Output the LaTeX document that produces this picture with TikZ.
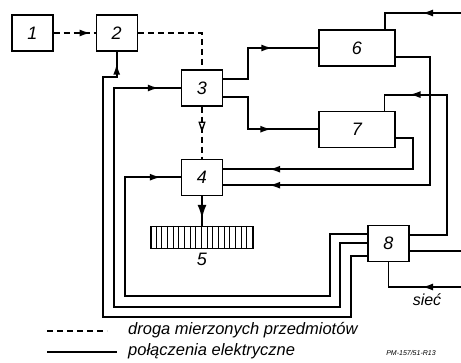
\documentclass[tikz,border=0pt]{standalone}
\usepackage{fontspec}
\setmainfont{Liberation Sans}
\usetikzlibrary{arrows.meta,positioning,decorations.markings}
\tikzstyle{blok}=[rectangle,draw,line width=1.2pt,minimum width=41pt,minimum height=36pt,
                  inner sep=0pt,font=\itshape\fontsize{18}{18}\selectfont]
\tikzstyle{wire}=[line width=1.8pt]
\tikzstyle{droga}=[line width=1.8pt,dash pattern=on 6pt off 4pt]
\tikzstyle{legtxt}=[anchor=west,inner sep=0pt,font=\itshape\fontsize{16.5}{16.5}\selectfont]
\tikzset{midarr/.style={postaction={decorate},decoration={markings,
           mark=at position #1 with {\arrow{Latex[length=11pt,width=7pt]}}}},
         bigarr/.style={postaction={decorate},decoration={markings,
           mark=at position #1 with {\arrow{Latex[length=14pt,width=9pt]}}}},
         openarr/.style={postaction={decorate},decoration={markings,
           mark=at position #1 with {\arrow{Triangle[open,length=11pt,width=7pt,line width=1.3pt]}}}}}

\begin{document}
\begin{tikzpicture}[x=1pt,y=-1pt,node distance=42pt]
  \useasboundingbox (0,0) rectangle (461,362);
  \node[blok] (n1) at (32.5,33) {1};
  \node[blok,right=of n1] (n2) {2};
  \node[blok] (n3) at (202,88) {3};
  \node[blok,below=52pt of n3] (n4) {4};
  \node[blok,below=30pt of n4,minimum width=102pt,minimum height=22pt] (n5) {};
  \foreach \k in {1,...,17}
    \draw[line width=0.7pt] ([xshift=\k*5.67pt]n5.north west) -- ([xshift=\k*5.67pt]n5.south west);
  \node[below=4pt of n5,font=\itshape\fontsize{18}{18}\selectfont,inner sep=0pt] (l5) {5};
  \node[blok,minimum width=76pt] (n6) at (357,48) {6};
  \node[blok,minimum width=76pt,below=44pt of n6] (n7) {7};
  \node[blok] (n8) at (388.5,243.5) {8};
  \coordinate (we6) at (461,13);
  \coordinate (we8) at (461,251);
  \coordinate (wes) at (461,287);
  \node[font=\itshape\fontsize{16}{16}\selectfont,inner sep=0pt] (siec) at (427,300) {sieć};

  % droga mierzonych przedmiotow
  \draw[droga,midarr=-5pt] (n1) -- (n2);
  \draw[droga] (n2) -| (n3);
  \draw[droga,openarr=26pt] (n3) -- (n4);
  \draw[wire,bigarr=-7pt] (n4) -- (n5);

  % polaczenia elektryczne
  \draw[wire,midarr=-46pt] ([yshift=9pt]n3.east) -- ++(25,0) |- (n6.west);
  \draw[wire,midarr=-47pt] ([yshift=-9pt]n3.east) -- ++(25,0) |- (n7.west);
  \draw[wire,midarr=39pt] (we6) -| ([xshift=28pt]n6.north);
  \draw[wire,midarr=-46pt] ([yshift=-9pt]n6.east) -- ++(34,0) |- ([yshift=-8pt]n4.east);
  \draw[wire,midarr=-46pt] ([yshift=-9pt]n7.east) -- ++(17,0) |- ([yshift=8pt]n4.east);
  \draw[wire,midarr=-41pt] ([yshift=8.5pt]n8.east) -- ++(37,0)
        |- ([xshift=27.5pt,yshift=16pt]n7.north) -- ([xshift=27.5pt]n7.north);
  \draw[wire] ([yshift=-7.5pt]n8.east) -- (we8);
  \draw[wire,midarr=39pt] (wes) -| (n8.south);
  \draw[wire,midarr=-20pt] ([yshift=9.5pt]n8.west) -| (330,296) -| ([xshift=-56pt]n4.west) -- (n4.west);
  \draw[wire,midarr=-22pt] ([yshift=0.5pt]n8.west) -| (340,307) -| ([xshift=-67pt]n3.west) -- (n3.west);
  \draw[wire,midarr=-12pt] ([yshift=-12.5pt]n8.west) -| (351,317) -| (103,77) -| (n2.south);

  % legenda
  \coordinate (ld1) at (47,331);
  \coordinate (ld2) at (107,331);
  \coordinate (lw1) at (47,352);
  \coordinate (lw2) at (117,352);
  \draw[droga] (ld1) -- (ld2);
  \draw[wire] (lw1) -- (lw2);
  \node[legtxt] (t1) at (128,330) {droga mierzonych przedmiotów};
  \node[legtxt] (t2) at (128,351) {połączenia elektryczne};
  \node[font=\itshape\fontsize{7}{7}\selectfont,inner sep=0pt] (sygn) at (411,353) {PM-157/51-R13};
\end{tikzpicture}
\end{document}
